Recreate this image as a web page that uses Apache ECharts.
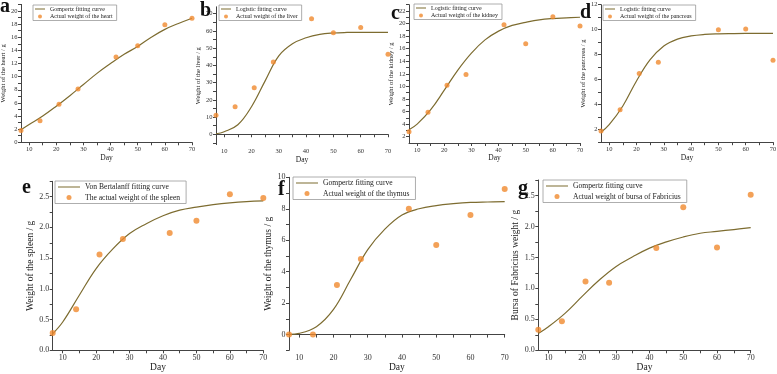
<!DOCTYPE html>
<html>
<head>
<meta charset="utf-8">
<script src="https://cdn.jsdelivr.net/npm/echarts@6/dist/echarts.min.js"></script>
<style>
html, body { margin: 0; padding: 0; background: #fff; }
#chart { width: 777px; height: 374px; }
</style>
</head>
<body>
<div id="chart"></div>
<script>
// sampling days
var days = [7, 14, 21, 28, 42, 50, 60, 70];
var pancreasDays = [7, 14, 21, 28, 50, 60, 70];
var fitDays = [7, 10, 15, 20, 25, 30, 35, 40, 45, 50, 55, 60, 65, 70];

// measured weights (g)
var heart = [1.8, 3.3, 5.8, 8.1, 13.0, 14.7, 17.9, 18.9];
var liver = [11, 16, 27, 42, 67, 59, 62, 46.5];
var kidney = [2.8, 5.9, 10.2, 11.9, 19.8, 16.8, 21.1, 19.6];
var pancreas = [1.9, 3.6, 6.5, 7.4, 10.0, 10.05, 7.55];
var spleen = [0.28, 0.67, 1.56, 1.81, 1.91, 2.11, 2.54, 2.48];
var thymus = [0.0, 0.0, 3.15, 4.8, 8.0, 5.7, 7.6, 9.25];
var bursa = [0.33, 0.47, 1.11, 1.09, 1.65, 2.31, 1.66, 2.51];

// fitted curves (at fitDays)
var heartFit = [1.9, 2.7, 4.0, 5.5, 7.1, 8.8, 10.5, 12.0, 13.4, 14.6, 16.0, 17.2, 18.1, 18.9];
var liverFit = [0.3, 1.5, 5.5, 16.0, 31.0, 45.5, 52.5, 56.0, 58.0, 58.8, 59.1, 59.2, 59.2, 59.2];
var kidneyFit = [3.1, 4.0, 6.3, 9.4, 12.6, 15.3, 17.4, 18.8, 19.7, 20.2, 20.6, 20.8, 20.9, 21.0];
var pancreasFit = [1.8, 2.4, 3.9, 5.9, 7.6, 8.7, 9.25, 9.5, 9.62, 9.67, 9.69, 9.7, 9.7, 9.7];
var spleenFit = [0.27, 0.46, 0.9, 1.33, 1.65, 1.9, 2.06, 2.19, 2.28, 2.33, 2.37, 2.4, 2.42, 2.43];
var thymusFit = [0.02, 0.08, 0.5, 1.6, 3.5, 5.4, 6.7, 7.6, 8.0, 8.2, 8.32, 8.4, 8.43, 8.45];
var bursaFit = [0.27, 0.38, 0.6, 0.87, 1.13, 1.35, 1.51, 1.65, 1.75, 1.83, 1.89, 1.92, 1.95, 1.98];

// tick labels
var xLabels = [10, 20, 30, 40, 50, 60, 70];
var xTicks = [10, 15, 20, 25, 30, 35, 40, 45, 50, 55, 60, 65, 70];
var heartLabels = [0, 2, 4, 6, 8, 10, 12, 14, 16, 18, 20];
var liverLabels = [0, 10, 20, 30, 40, 50, 60, 70];
var kidneyLabels = [2, 4, 6, 8, 10, 12, 14, 16, 18, 20, 22];
var pancreasLabels = [2, 4, 6, 8, 10, 12];
var spleenLabels = [0.0, 0.5, 1.0, 1.5, 2.0, 2.5];
var thymusLabels = [0, 2, 4, 6, 8, 10];
var bursaLabels = [0.0, 0.5, 1.0, 1.5, 2.0, 2.5];

var curveColor = '#7d6c30';
var dotColor = '#f08a2e';
var serif = 'Liberation Serif';

function range(a, b, s) {
  var out = [];
  for (var v = a; v <= b + 1e-9; v += s) out.push(Math.round(v * 1000) / 1000);
  return out;
}
function pairs(xs, ys) {
  return xs.map(function (x, i) { return [x, ys[i]]; });
}
// thin line icon for the legend (corner dots keep the box at w x h)
function lineIcon(w, h) {
  var y = (h - 1.2) / 2;
  return 'path://M0,0h0.01v0.01h-0.01z M0,' + y + 'h' + w + 'v1.2h-' + w + 'z M' +
    (w - 0.01) + ',' + (h - 0.01) + 'h0.01v0.01h-0.01z';
}

var panels = [
  {tag: 'a', grid: {left: 21, top: 4.4, width: 171, height: 137.9}, min: 0, max: 21,
    yName: 'Weight of the heart / g', labels: heartLabels, ticks: range(0, 21, 1), gap: 11,
    fitName: 'Gompertz fitting curve', fit: heartFit, ptName: 'Actual weight of the heart', xs: days, ys: heart,
    legend: [33, 5], tagPos: [0, -3], small: true},
  {tag: 'b', grid: {left: 216, top: 6.8, width: 172, height: 137.8}, min: -6, max: 74,
    yName: 'Weight of the liver / g', labels: liverLabels, ticks: range(-5, 70, 5), gap: 10,
    fitName: 'Logistic fitting curve', fit: liverFit, ptName: 'Actual weight of the liver', xs: days, ys: liver,
    legend: [219, 5], tagPos: [200, 1], small: true},
  {tag: 'c', grid: {left: 409, top: 4.7, width: 171, height: 138.3}, min: 1, max: 23,
    yName: 'Weight of the kidney / g', labels: kidneyLabels, ticks: range(2, 23, 1), gap: 10.5,
    fitName: 'Logistic fitting curve', fit: kidneyFit, ptName: 'Actual weight of the kidney', xs: days, ys: kidney,
    legend: [414, 4], tagPos: [391, 4], small: true},
  {tag: 'd', grid: {left: 601, top: 4.7, width: 172, height: 137.5}, min: 1, max: 12,
    yName: 'Weight of the pancreas / g', labels: pancreasLabels, ticks: range(1, 12, 1), gap: 9,
    fitName: 'Logistic fitting curve', fit: pancreasFit, ptName: 'Actual weight of the pancreas', xs: pancreasDays, ys: pancreas,
    legend: [603, 5], tagPos: [580, 3], small: true},
  {tag: 'e', grid: {left: 52.7, top: 181.3, width: 210.6, height: 169}, min: 0, max: 2.75,
    yName: 'Weight of the spleen / g', labels: spleenLabels, ticks: range(0, 2.75, 0.25), gap: 14.5,
    fitName: 'Von Bertalanff fitting curve', fit: spleenFit, ptName: 'The actual weight of the spleen', xs: days, ys: spleen,
    legend: [55, 181], tagPos: [22, 178], small: false},
  {tag: 'f', grid: {left: 289, top: 177.3, width: 215.7, height: 173}, min: -1, max: 10,
    yName: 'Weight of the thymus / g', labels: thymusLabels, ticks: range(-1, 10, 1), gap: 13,
    fitName: 'Gompertz fitting curve', fit: thymusFit, ptName: 'Actual weight of the thymus', xs: days, ys: thymus,
    legend: [293, 177], tagPos: [278, 180], small: false},
  {tag: 'g', grid: {left: 538.3, top: 180, width: 212.4, height: 170.3}, min: 0, max: 2.75,
    yName: 'Bursa of Fabricius weight / g', labels: bursaLabels, ticks: range(0, 2.75, 0.25), gap: 15.5,
    fitName: 'Gompertz fitting curve', fit: bursaFit, ptName: 'Actual weight of bursa of Fabricius', xs: days, ys: bursa,
    legend: [543, 180], tagPos: [518, 179], small: false}
];

var grids = [], xAxes = [], yAxes = [], series = [], legends = [], titles = [];

panels.forEach(function (p, i) {
  var tickSize = p.small ? 6.5 : 8;
  var nameSize = p.small ? 6.5 : 9.5;
  var daySize = p.small ? 7.5 : 9.5;
  var legSize = p.small ? 6 : 7.6;
  var iw = p.small ? 10 : 22, ih = p.small ? 4 : 5;
  var decimals = p.max < 5 ? 1 : 0;

  grids.push(Object.assign({outerBoundsMode: 'none', containLabel: false}, p.grid));

  xAxes.push({
    type: 'value', gridIndex: i, min: 7, max: 70,
    name: 'Day', nameLocation: 'middle', nameGap: p.small ? 8.5 : 9.5,
    nameTextStyle: {fontFamily: serif, fontSize: daySize, color: '#222'},
    axisLine: {lineStyle: {color: '#444', width: 1}},
    axisTick: {show: true, customValues: xTicks, length: 3, lineStyle: {color: '#444', width: 1}},
    axisLabel: {customValues: xLabels, fontFamily: serif, fontSize: tickSize, color: '#333', margin: 3.5},
    splitLine: {show: false}
  });

  yAxes.push({
    type: 'value', gridIndex: i, min: p.min, max: p.max,
    name: p.yName, nameLocation: 'middle', nameGap: p.gap,
    nameTextStyle: {fontFamily: serif, fontSize: nameSize, color: '#222'},
    axisLine: {show: true, lineStyle: {color: '#444', width: 1}},
    axisTick: {show: true, customValues: p.ticks, length: 3, lineStyle: {color: '#444', width: 1}},
    axisLabel: {customValues: p.labels, fontFamily: serif, fontSize: tickSize, color: '#333', margin: 3.5,
      formatter: function (v) { return v.toFixed(decimals); }},
    splitLine: {show: false}
  });

  series.push({
    type: 'line', name: p.fitName, xAxisIndex: i, yAxisIndex: i,
    data: pairs(fitDays, p.fit), smooth: 0.4, symbol: 'none', showSymbol: false,
    lineStyle: {color: curveColor, width: 1.2}, itemStyle: {color: curveColor}, z: 2
  });
  series.push({
    type: 'scatter', name: p.ptName, xAxisIndex: i, yAxisIndex: i,
    data: pairs(p.xs, p.ys), symbolSize: p.small ? 5 : 6,
    itemStyle: {color: dotColor}, z: 3
  });

  legends.push({
    data: [
      {name: p.fitName, icon: lineIcon(iw, ih), itemStyle: {color: curveColor, borderWidth: 0}},
      {name: p.ptName, icon: 'circle'}
    ],
    orient: 'vertical', left: p.legend[0], top: p.legend[1],
    padding: p.small ? [1, 4, 1, 2] : [2, 6, 2, 3],
    borderColor: '#999', borderWidth: 0.8,
    itemGap: p.small ? 1.5 : 2.5,
    itemWidth: iw, itemHeight: ih,
    textStyle: {fontFamily: serif, fontSize: legSize, color: '#222'},
    selectedMode: false
  });

  titles.push({
    text: p.tag, left: p.tagPos[0], top: p.tagPos[1], padding: 0,
    textStyle: {fontFamily: serif, fontSize: 20, fontWeight: 'bold', color: '#111'}
  });
});

var chart = echarts.init(document.getElementById('chart'));
chart.setOption({
  backgroundColor: '#fff',
  animation: false,
  title: titles,
  grid: grids,
  xAxis: xAxes,
  yAxis: yAxes,
  legend: legends,
  series: series
});
</script>
</body>
</html>
